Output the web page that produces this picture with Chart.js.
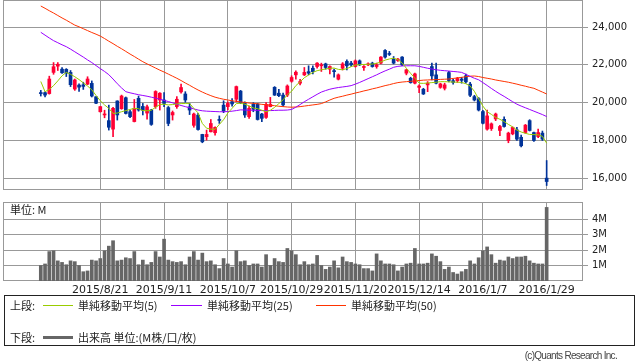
<!DOCTYPE html>
<html><head><meta charset="utf-8">
<script src="https://cdn.jsdelivr.net/npm/chart.js@4.4.1/dist/chart.umd.min.js"></script>
<style>
html,body{margin:0;padding:0;background:#fff;width:638px;height:362px;overflow:hidden;}
#wrap{position:relative;width:638px;height:362px;font-family:"Noto Sans CJK JP","DejaVu Sans",sans-serif;color:#222;}
#c1{position:absolute;left:0;top:0;}
#c2{position:absolute;left:0;top:200px;}
#unit{position:absolute;left:10px;top:202px;font-size:11px;line-height:14px;}
#legend{position:absolute;left:4px;top:295px;width:631px;height:51px;border:1px solid #222;box-sizing:border-box;font-size:11px;}
.row{position:absolute;left:0;height:14px;line-height:14px;white-space:nowrap;}
.row span{position:absolute;top:0;}
.ln{position:absolute;height:0;}
#copy{position:absolute;right:21px;top:349px;font-size:10px;line-height:14px;color:#444;letter-spacing:-0.7px;font-family:"Liberation Sans",sans-serif;}
</style></head>
<body><div id="wrap">
<canvas id="c1" width="638" height="192"></canvas>
<canvas id="c2" width="638" height="100"></canvas>
<div id="unit">単位: M</div>
<div id="legend">
  <div class="row" style="top:2px;">
    <span style="left:5px;">上段:</span>
    <div class="ln" style="left:38px;top:7px;width:30px;border-top:1px solid #99cc00;"></div>
    <span style="left:73px;">単純移動平均(5)</span>
    <div class="ln" style="left:166px;top:7px;width:31px;border-top:1px solid #9900ff;"></div>
    <span style="left:202px;">単純移動平均(25)</span>
    <div class="ln" style="left:311px;top:7px;width:30px;border-top:1px solid #ff3300;"></div>
    <span style="left:346px;">単純移動平均(50)</span>
  </div>
  <div class="row" style="top:34px;">
    <span style="left:5px;">下段:</span>
    <div class="ln" style="left:38px;top:6px;width:30px;border-top:3px solid #666;"></div>
    <span style="left:73px;">出来高 単位:(M株/口/枚)</span>
  </div>
</div>
<div id="copy">(c)Quants Research Inc.</div>
</div>
<script>
const dates = [
'2015/8/3','2015/8/4','2015/8/5','2015/8/6','2015/8/7','2015/8/10','2015/8/11','2015/8/12','2015/8/13','2015/8/14',
'2015/8/17','2015/8/18','2015/8/19','2015/8/20','2015/8/21','2015/8/24','2015/8/25','2015/8/26','2015/8/27','2015/8/28',
'2015/8/31','2015/9/1','2015/9/2','2015/9/3','2015/9/4','2015/9/7','2015/9/8','2015/9/9','2015/9/10','2015/9/11',
'2015/9/14','2015/9/15','2015/9/16','2015/9/17','2015/9/18','2015/9/24','2015/9/25','2015/9/28','2015/9/29','2015/9/30',
'2015/10/1','2015/10/2','2015/10/5','2015/10/6','2015/10/7','2015/10/8','2015/10/9','2015/10/13','2015/10/14','2015/10/15',
'2015/10/16','2015/10/19','2015/10/20','2015/10/21','2015/10/22','2015/10/23','2015/10/26','2015/10/27','2015/10/28','2015/10/29',
'2015/10/30','2015/11/2','2015/11/4','2015/11/5','2015/11/6','2015/11/9','2015/11/10','2015/11/11','2015/11/12','2015/11/13',
'2015/11/16','2015/11/17','2015/11/18','2015/11/19','2015/11/20','2015/11/24','2015/11/25','2015/11/26','2015/11/27','2015/11/30',
'2015/12/1','2015/12/2','2015/12/3','2015/12/4','2015/12/7','2015/12/8','2015/12/9','2015/12/10','2015/12/11','2015/12/14',
'2015/12/15','2015/12/16','2015/12/17','2015/12/18','2015/12/21','2015/12/22','2015/12/24','2015/12/25','2015/12/28','2015/12/29',
'2015/12/30','2016/1/4','2016/1/5','2016/1/6','2016/1/7','2016/1/8','2016/1/12','2016/1/13','2016/1/14','2016/1/15',
'2016/1/18','2016/1/19','2016/1/20','2016/1/21','2016/1/22','2016/1/25','2016/1/26','2016/1/27','2016/1/28','2016/1/29'];

const tickLabels = ['2015/8/21','2015/9/11','2015/10/7','2015/10/29','2015/11/20','2015/12/14','2016/1/7','2016/1/29'];
const priceTicks = [16000,18000,20000,22000,24000];
const volumeTicks = [1,2,3,4];

const open = [
20520,20530,20480,21600,21930,21770,21760,21600,20720,20930, 20940,20980,21020,20310,19520,19350,19050,18600,20090,19680,
20260,19520,19000,20230,19800,19450,19610,19790,20140,20140, 19740,19350,19790,20570,20460,19780,18800,19340,18320,18200,
18460,18410,19100,19870,19790,20050,20180,20610,20000,19260, 19910,19930,19400,19220,19790,20810,20500,20400,20400,21130,
21470,21030,21470,21640,21820,21910,21950,22050,21770,21660, 21240,21820,22180,22090,21910,22210,21860,22000,22090,21910,
22090,22760,22580,22300,22230,22410,21560,21290,21030,20810, 20710,20940,21910,21470,20810,20760,21590,21160,21160,21250,
21420,20980,20320,20210,19530,18600,18630,19140,18530,19120, 18000,18350,18560,18170,18420,19050,18420,18210,18390,16010];
const high = [
20650,20570,21400,22120,22120,21860,21800,21700,21250,21000, 21080,21370,21150,20320,19800,19600,19870,19750,20100,20400,
20300,19600,20170,20350,19960,19870,19650,20630,20530,20530, 19800,19560,20320,20980,20580,19960,19450,19430,18330,18550,
19110,18720,19300,20100,20050,20210,20880,20650,20050,19820, 20000,19960,19430,20000,20280,20850,20700,20500,20940,21420,
21680,21240,21860,21950,21950,22120,22090,22090,21950,21770, 21520,22120,22265,22180,22260,22260,21965,22100,22140,22090,
22440,22800,22710,22440,22350,22440,21770,21345,21560,20940, 20760,21115,22090,22090,21030,21030,21650,21250,21340,21340,
21510,21070,20390,20270,19600,19610,18930,19450,18800,19250, 18440,18720,18700,18280,18850,19100,18450,18600,18500,16940];
const low = [
20350,20300,20450,21500,21700,21540,21380,20850,20650,20600, 20700,20950,20300,19950,19500,19200,18550,18200,19080,19650,
19400,19200,18980,19550,19350,19130,18800,19700,19610,19790, 18780,19080,19700,20500,20020,19370,18700,18550,17880,18020,
18450,18280,18900,19470,19610,19820,20050,19950,19220,19170, 19520,19080,18990,19170,19780,20380,20320,19800,20320,21080,
21240,20940,21430,21470,21520,21820,21650,21770,21520,21350, 21200,21730,21735,21910,21880,21960,21700,21950,21875,21820,
22050,22350,22490,22050,22180,21950,21470,21030,20990,20530, 20430,20580,21200,20990,20760,20670,21100,20980,21070,21030,
21030,20320,20090,19560,18880,18550,18530,19050,18250,18700, 17880,18300,18000,17660,18380,18500,17950,18150,18000,15620];
const close = [
20480,20400,21250,21900,22030,21580,21560,20950,21200,20820, 20860,21250,20350,19970,19790,19400,18700,19700,19350,20350,
19430,19260,19700,19610,19600,19780,18850,20590,20500,19960, 18900,19480,20180,20800,20140,19610,19400,18580,17930,18320,
18900,18690,19060,19560,19960,19930,20850,20000,19350,19700, 19650,19110,19170,19910,19910,20400,20370,19880,20880,21330,
21610,21115,21600,21560,21640,22090,22000,21860,21910,21640, 21470,22050,21950,22000,22210,22000,21900,22050,21910,22000,
22410,22410,22550,22090,22300,22000,21735,21060,21520,20880, 20460,21030,21415,21030,20990,20940,21170,21070,21280,21180,
21100,20390,20140,19610,18910,19300,18880,19400,18740,18740, 18390,18690,18070,17720,18810,18530,18000,18420,18070,15830];

const ma5 = [
21120,20580,20700,20900,21150,21420,21600,21500,21370,21220, 21050,20880,20680,20380,20100,19880,19700,19430,19450,19520,
19580,19640,19700,19680,19580,19570,19600,19760,19900,19920, 19880,19900,19930,19950,19960,19960,19700,19460,18900,18650,
18600,18590,18850,19100,19450,19700,19950,19970,19920,19830, 19720,19680,19600,19520,19600,19750,19950,20150,20420,20600,
20900,21100,21320,21460,21600,21690,21740,21780,21820,21830, 21760,21740,21800,21900,21990,22010,22020,22030,22040,22080,
22150,22250,22310,22350,22280,22100,21820,21550,21300,21030, 21020,21040,21060,21080,21110,21110,21100,21090,21080,21070,
21000,20880,20600,20200,19820,19520,19380,19220,19120,19000, 18850,18720,18550,18450,18380,18320,18310,18300,18220,17860];
const ma25 = [
23720,23570,23420,23280,23170,23060,22960,22830,22690,22550, 22410,22260,22120,21960,21800,21650,21480,21250,21000,20780,
20580,20520,20470,20420,20380,20340,20290,20240,20180,20120, 20060,19990,19920,19850,19790,19730,19670,19610,19570,19550,
19540,19530,19520,19520,19530,19550,19580,19620,19610,19600, 19600,19590,19580,19580,19580,19590,19600,19600,19610,19640,
19760,19900,20050,20180,20310,20440,20560,20640,20710,20760, 20800,20830,20860,20900,20980,21070,21170,21270,21370,21470,
21580,21680,21770,21870,21920,21940,21950,21950,21950,21920, 21870,21820,21780,21740,21710,21690,21670,21650,21630,21600,
21500,21390,21290,21210,21060,20910,20750,20600,20460,20330, 20190,20050,19920,19820,19730,19640,19550,19460,19370,19265];
const ma50 = [
25110,24990,24860,24740,24610,24480,24360,24230,24100,24010, 23910,23810,23710,23620,23520,23390,23250,23120,22980,22850,
22710,22570,22440,22300,22165,22050,21940,21830,21720,21620, 21510,21400,21290,21170,21040,20920,20790,20670,20560,20460,
20370,20290,20230,20180,20140,20100,20070,20040,20010,19980, 19960,19940,19910,19890,19860,19840,19810,19790,19770,19760,
19770,19790,19820,19850,19880,19910,19950,20040,20140,20230, 20290,20340,20400,20450,20510,20560,20620,20670,20730,20780,
20840,20900,20950,21010,21060,21090,21110,21130,21150,21170, 21190,21200,21210,21220,21230,21240,21250,21280,21310,21340,
21370,21400,21410,21380,21330,21290,21250,21200,21160,21120, 21080,21030,20980,20920,20870,20810,20760,20660,20560,20460];

const volume = [
1.0,1.1,1.9,1.95,1.3,1.2,1.05,1.3,1.25,1.0, 0.6,0.65,1.35,1.3,1.45,1.95,2.25,2.6,1.3,1.35,
1.5,1.45,1.9,1.05,1.35,1.05,1.2,1.9,1.55,2.7, 1.35,1.25,1.2,1.25,1.05,1.55,1.9,1.35,1.8,1.25,
1.3,1.05,0.8,1.45,1.1,0.9,1.95,1.25,1.3,1.0, 1.1,1.1,0.9,1.7,1.0,1.45,1.25,1.2,2.1,1.95,
1.7,1.05,1.25,1.05,1.1,1.65,1.0,0.75,0.9,1.3, 0.85,1.55,1.25,1.2,1.1,1.05,0.8,0.8,0.65,1.75,
1.3,1.1,1.1,1.05,0.65,0.9,1.1,1.15,2.1,1.1, 1.1,1.15,1.75,1.6,1.25,0.75,0.9,0.55,0.45,0.6,
0.75,1.3,1.1,1.5,1.95,2.2,1.7,1.15,1.35,1.3, 1.55,1.45,1.55,1.55,1.6,1.3,1.15,1.1,1.1,4.75];

const UP = '#ff0033', DOWN = '#003399';
const candleColor = open.map((o,i)=> close[i] >= o ? UP : DOWN);
const tickIdx = tickLabels.map(l => dates.indexOf(l));
const X_MIN = -8.89, X_MAX = 127.55;
const GRID = '#999999';

const frame = {
  id:'frame',
  beforeDatasetsDraw(chart){
    const {left,top,right,bottom} = chart.chartArea;
    const ctx = chart.ctx; ctx.save();
    ctx.strokeStyle = GRID; ctx.lineWidth = 1;
    ctx.strokeRect(Math.round(left)+0.5, Math.round(top)+0.5, Math.round(right-left)-1, Math.round(bottom-top)-1);
    ctx.restore();
  }
};

function noPad(s){ s.paddingTop = 0; s.paddingBottom = 0; s.paddingLeft = 0; s.paddingRight = 0; }

function xScale(showLabels){
  return {
    type:'linear', min:X_MIN, max:X_MAX, offset:false,
    afterBuildTicks(s){ s.ticks = tickIdx.map(v=>({value:v})); },
    afterFit(s){ s.height = showLabels ? 19 : 0; noPad(s); },
    grid:{color:GRID, lineWidth:1, drawTicks:false, offset:false},
    border:{display:false},
    ticks:{display:showLabels, autoSkip:false, maxRotation:0, minRotation:0, padding:3,
      color:'#222', font:{family:'DejaVu Sans', size:11},
      callback:(v)=> dates[v] || ''}
  };
}

const pts = arr => arr.map((v,i)=>({x:i,y:v}));

new Chart(document.getElementById('c1'), {
  type:'bar',
  data:{datasets:[
    {type:'line', data:pts(ma5), borderColor:'#99cc00', borderWidth:1, pointRadius:0, tension:0, order:0},
    {type:'line', data:pts(ma25), borderColor:'#9900ff', borderWidth:1, pointRadius:0, tension:0, order:0},
    {type:'line', data:pts(ma50), borderColor:'#ff3300', borderWidth:1, pointRadius:0, tension:0, order:0},
    {data:open.map((o,i)=>({x:i,y:[o,close[i]]})), backgroundColor:candleColor, barThickness:3, minBarLength:1, grouped:false, order:1, borderWidth:0},
    {data:low.map((l,i)=>({x:i,y:[l,high[i]]})), backgroundColor:candleColor, barThickness:1, grouped:false, order:2, borderWidth:0}
  ]},
  options:{
    responsive:false, animation:false, events:[],
    layout:{padding:{left:3,right:0,top:0,bottom:2}},
    plugins:{legend:{display:false}, tooltip:{enabled:false}},
    scales:{
      x: xScale(false),
      y:{position:'right', min:15382, max:25428,
        afterBuildTicks(s){ s.ticks = priceTicks.map(v=>({value:v})); },
        afterFit(s){ s.width = 55; noPad(s); },
        grid:{color:GRID, lineWidth:1, drawTicks:true, tickLength:5},
        border:{display:false},
        ticks:{padding:4, color:'#222', font:{family:'DejaVu Sans', size:10},
          callback:v=> v.toLocaleString('en-US')}
      }
    }
  },
  plugins:[frame]
});

new Chart(document.getElementById('c2'), {
  type:'bar',
  data:{datasets:[
    {data:pts(volume), backgroundColor:'#666666', barThickness:3, borderWidth:0}
  ]},
  options:{
    responsive:false, animation:false, events:[],
    layout:{padding:{left:3,right:0,top:2,bottom:0}},
    plugins:{legend:{display:false}, tooltip:{enabled:false}},
    scales:{
      x: xScale(true),
      y:{position:'right', min:0, max:5.1,
        afterBuildTicks(s){ s.ticks = volumeTicks.map(v=>({value:v})); },
        afterFit(s){ s.width = 55; noPad(s); },
        grid:{color:GRID, lineWidth:1, drawTicks:true, tickLength:5},
        border:{display:false},
        ticks:{padding:4, color:'#222', font:{family:'DejaVu Sans', size:10},
          callback:v=> v + 'M'}
      }
    }
  },
  plugins:[frame]
});
</script>
</body></html>
